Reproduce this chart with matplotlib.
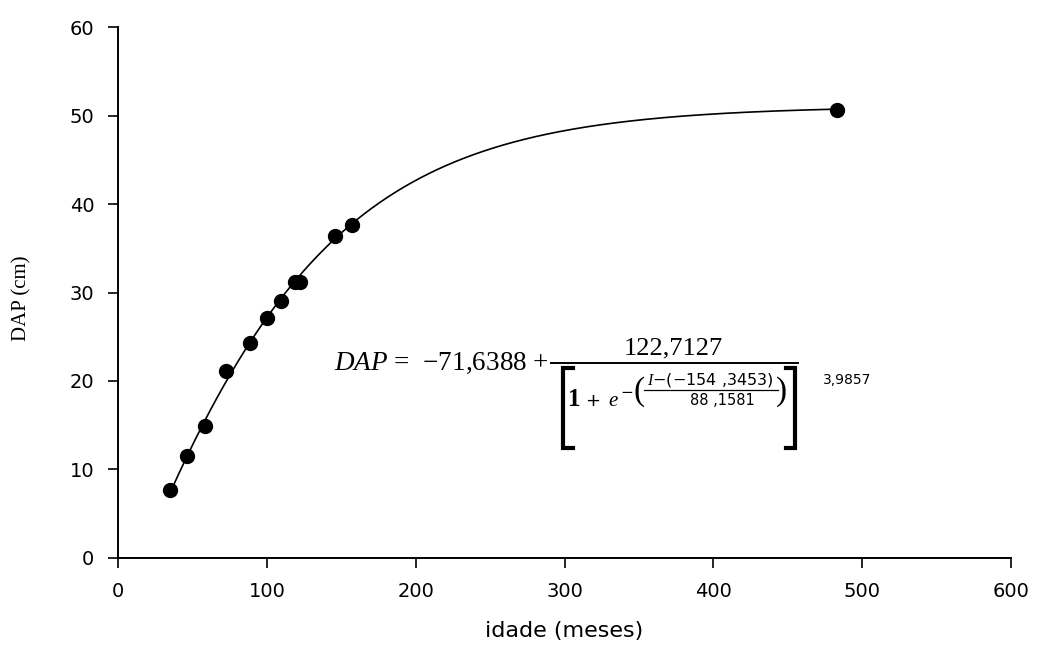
import numpy as np
import matplotlib
matplotlib.use("Agg")
import matplotlib.pyplot as plt
from matplotlib.lines import Line2D

# ── data ──────────────────────────────────────────────────────────────────────
idade = [35, 46, 58.5, 72.5, 88.5, 100, 109.5, 119, 122, 146, 157, 483]
dap = [7.7, 11.5, 14.9, 21.1, 24.3, 27.1, 29.0, 31.2, 31.2, 36.4, 37.6, 50.6]

# fitted Richards model parameters (as printed on the chart)
A0, A1, B0, B1, M = -71.6388, 122.7127, -154.3453, 88.1581, 3.9857

x_ticks = [0, 100, 200, 300, 400, 500, 600]
y_ticks = [0, 10, 20, 30, 40, 50, 60]

# ── figure ────────────────────────────────────────────────────────────────────
plt.rcParams["mathtext.fontset"] = "custom"
plt.rcParams["mathtext.rm"] = "Liberation Serif"
plt.rcParams["mathtext.it"] = "Liberation Serif:italic"

fig = plt.figure(figsize=(10.41, 6.54), dpi=100)
ax = fig.add_axes([0.1134, 0.1468, 0.8578, 0.8119])

xc = np.linspace(min(idade), max(idade), 400)
yc = A0 + A1 / (1 + np.exp(-(xc - B0) / B1)) ** M
ax.plot(xc, yc, color="black", lw=1.2, zorder=2)
ax.plot(idade, dap, "o", color="black", ms=10, zorder=3)

ax.set_xlim(0, 600)
ax.set_ylim(0, 60)
ax.set_xticks(x_ticks)
ax.set_yticks(y_ticks)
ax.tick_params(direction="out", length=7, width=1.2, labelsize=14, pad=10)
for s in ["top", "right"]:
    ax.spines[s].set_visible(False)
for s in ["left", "bottom"]:
    ax.spines[s].set_linewidth(1.4)

ax.set_xlabel("idade (meses)", fontsize=16)
ax.xaxis.set_label_coords(0.4995, -0.118)
ax.set_ylabel("DAP (cm)", fontsize=15, family="Liberation Serif")
ax.yaxis.set_label_coords(-0.097, 0.49)

# ── equation (positions in axes fraction) ─────────────────────────────────────
serif = "Liberation Serif"
T = ax.transAxes

ax.text(0.4826, 0.3672, r"$\mathit{DAP}$ =  −71,6388 +", transform=T,
        ha="right", va="center", fontsize=19.5, family=serif)
ax.add_line(Line2D([0.4849, 0.7615], [0.3672, 0.3672], transform=T,
                   color="black", lw=1.4))
ax.text(0.6215, 0.3955, "122,7127", transform=T, ha="center", va="center",
        fontsize=19, family=serif)

# big brackets
yb0, yb1 = 0.2072, 0.3578
for xv, xs in [(0.4983, 0.5095), (0.7581, 0.748)]:
    ax.add_line(Line2D([xs, xv, xv, xs], [yb1, yb1, yb0, yb0], transform=T,
                       color="black", lw=3, solid_joinstyle="miter"))

ax.text(0.5040, 0.2976, "1", transform=T, ha="left", va="center",
        fontsize=18, family=serif, fontweight="bold")
ax.text(0.5310, 0.2960, "+", transform=T, ha="center", va="center",
        fontsize=13)
ax.text(0.5545, 0.2938, r"$\mathit{e}$", transform=T, ha="center", va="center",
        fontsize=15, family=serif)

# exponent
ax.text(0.5700, 0.3126, "−", transform=T, ha="center", va="center",
        fontsize=11)
ax.text(0.5830, 0.3135, "(", transform=T, ha="center", va="center",
        fontsize=24, family=serif, fontweight="light")
ax.text(0.7435, 0.3135, ")", transform=T, ha="center", va="center",
        fontsize=24, family=serif, fontweight="light")
ax.text(0.6630, 0.3352, r"$\mathit{I}$−(−154 ,3453)", transform=T,
        ha="center", va="center", fontsize=11.5)
ax.add_line(Line2D([0.5885, 0.7391], [0.3164, 0.3164], transform=T,
                   color="black", lw=0.9))
ax.text(0.6764, 0.2957, "88 ,1581", transform=T, ha="center", va="center",
        fontsize=10.5)
ax.text(0.7895, 0.3352, "3,9857", transform=T, ha="left", va="center",
        fontsize=10)

fig.savefig("out.png", dpi=100)
